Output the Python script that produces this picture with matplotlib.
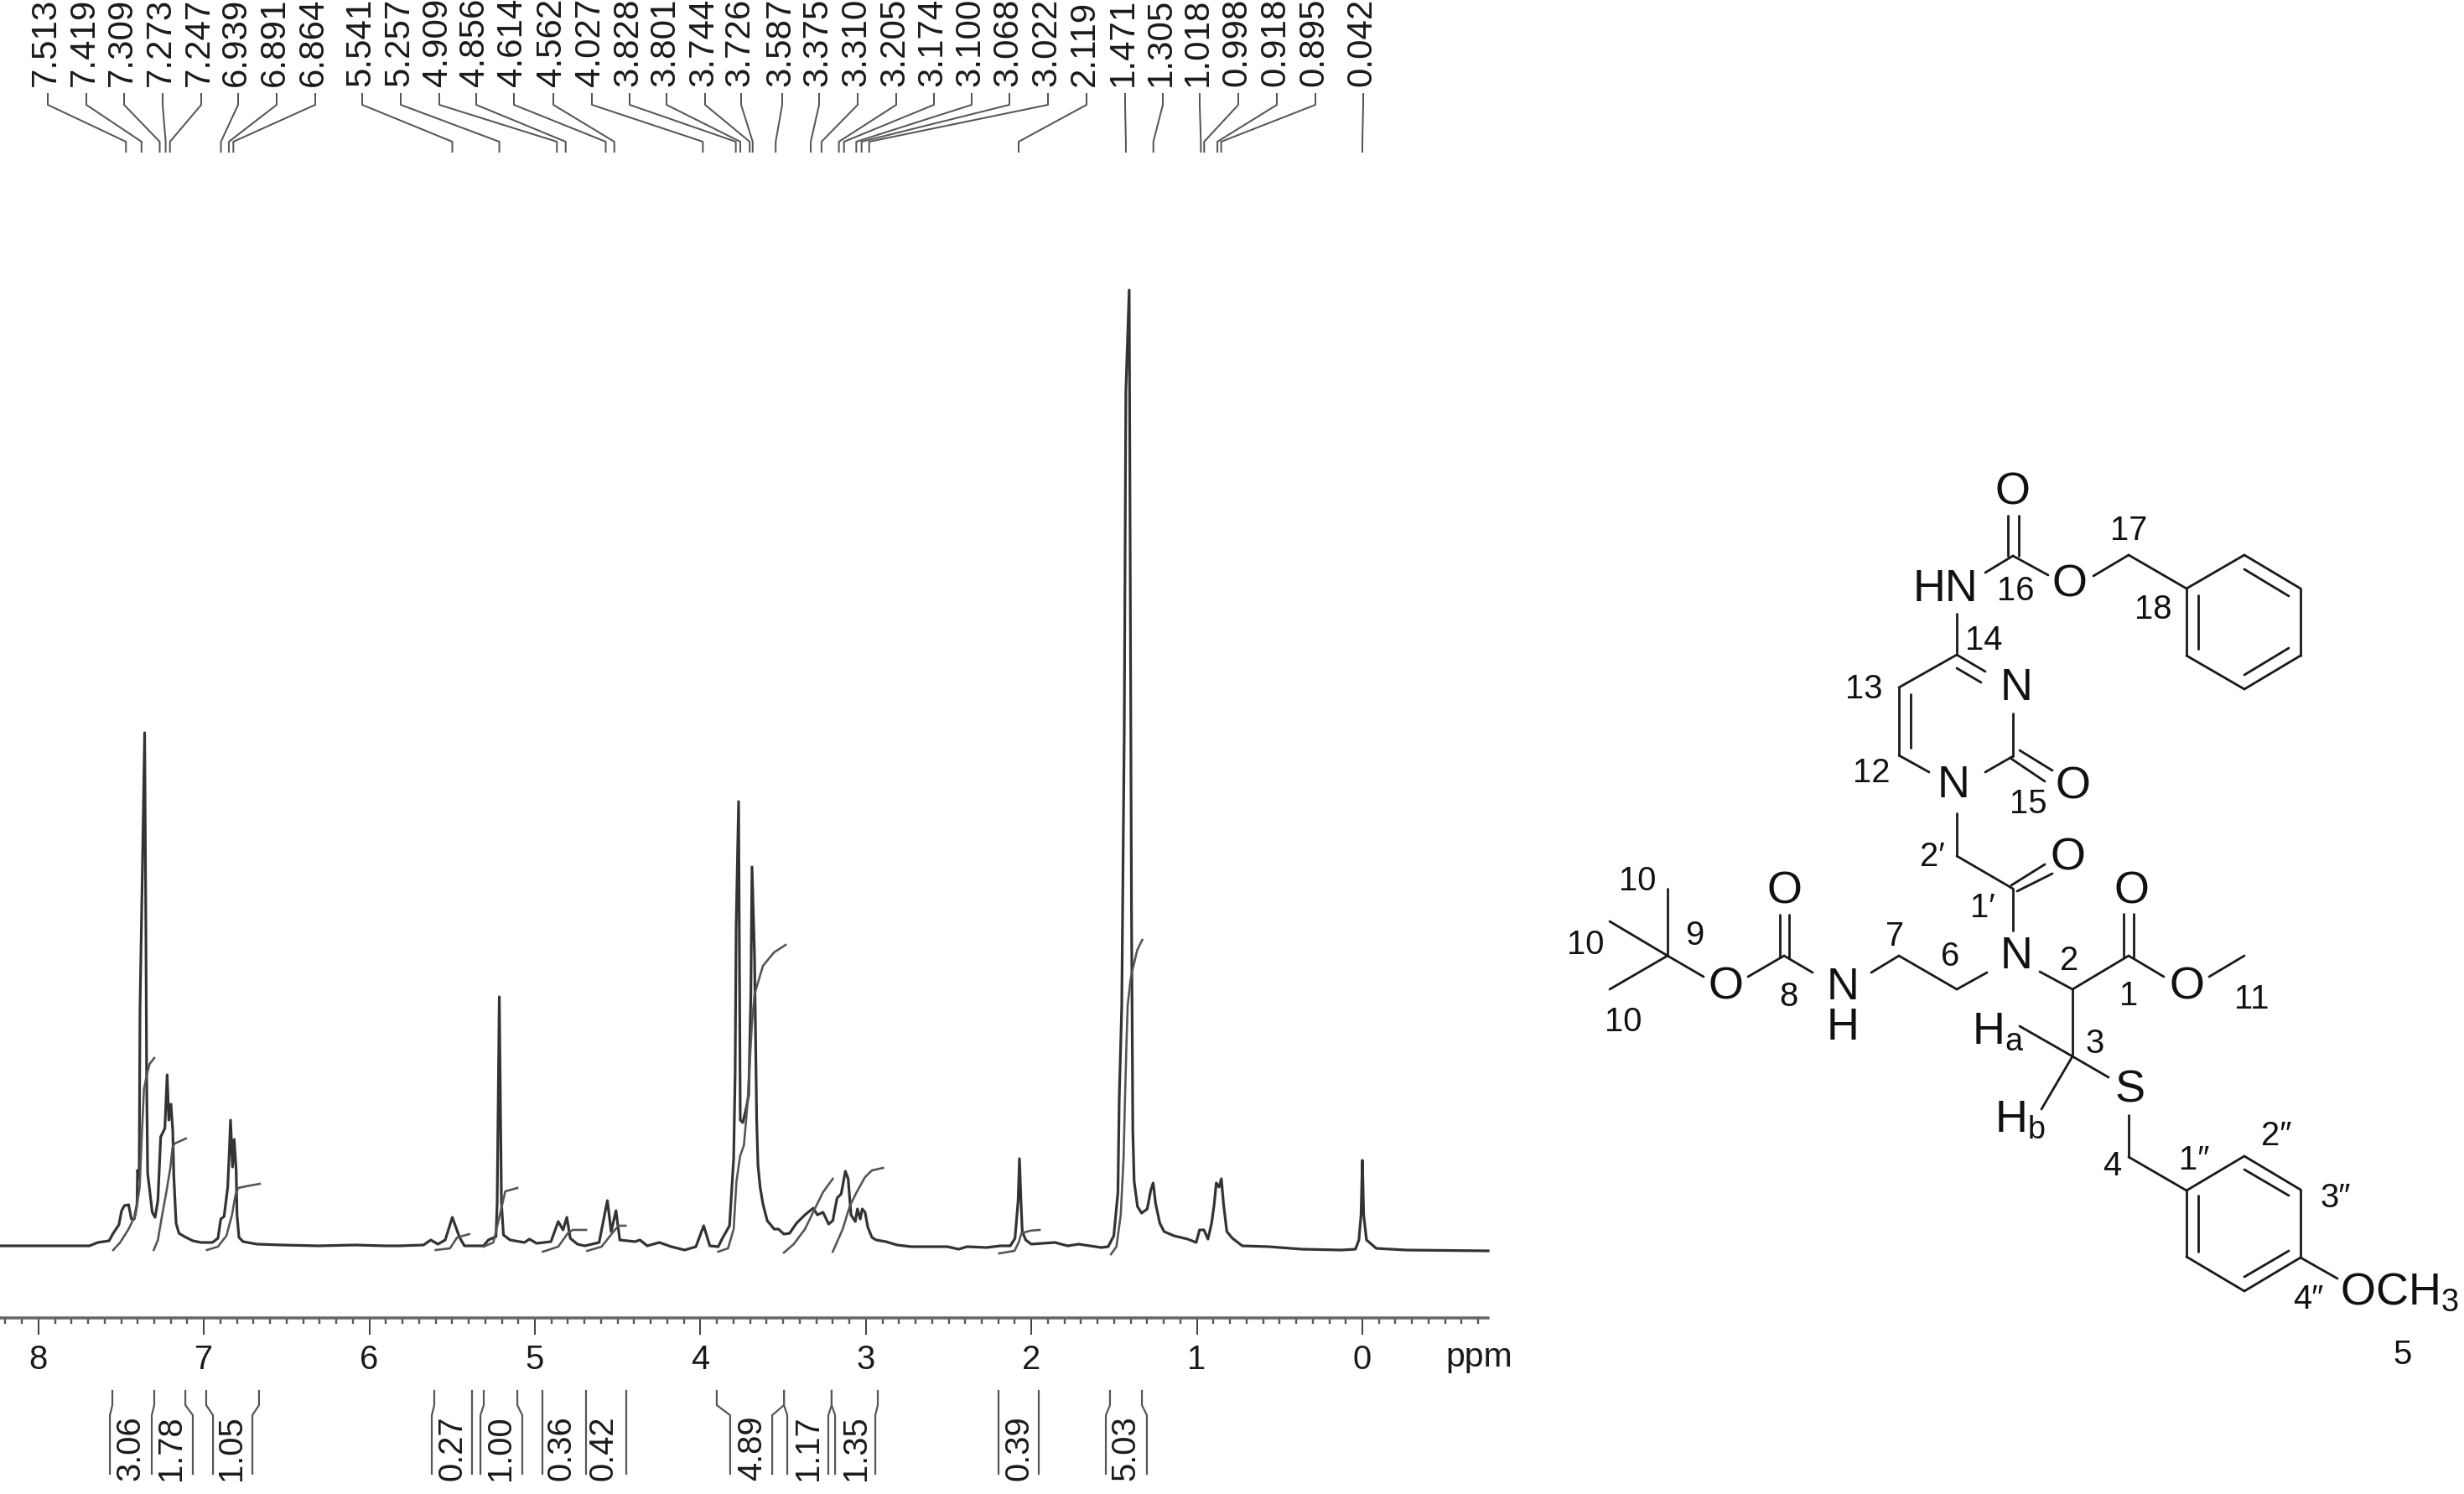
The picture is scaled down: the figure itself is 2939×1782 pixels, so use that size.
import numpy as np
import matplotlib
matplotlib.use("Agg")
import matplotlib.pyplot as plt

plt.rcParams['font.family'] = ['Liberation Sans', 'DejaVu Sans']
plt.rcParams['mathtext.default'] = 'regular'

W, H = 2939, 1783
PX = 0.72  # one pixel in points at dpi=100
PPM0_X = 1625.0  # pixel of 0 ppm
PPM_SCALE = 197.4  # pixels per ppm
BASE_Y = 1486.0  # pixel of the baseline, intensity is counted in pixels above it

# spectrum trace, ppm / intensity
spec_ppm = [8.232, 7.928, 7.692, 7.641, 7.573, 7.548, 7.514, 7.497, 7.480, 7.455, 7.438, 7.421, 7.404, 7.401, 7.391,
            7.386, 7.372, 7.358, 7.350, 7.346, 7.340, 7.312, 7.295, 7.278, 7.261, 7.236, 7.222, 7.212,
            7.199, 7.188, 7.182, 7.168, 7.151, 7.117, 7.067, 7.016, 6.949, 6.915, 6.898, 6.878, 6.856, 6.847, 6.839,
            6.827, 6.817, 6.805, 6.800, 6.788, 6.763, 6.678, 6.526, 6.307, 6.087, 5.902, 5.818, 5.673, 5.629, 5.586,
            5.542, 5.499, 5.455, 5.426, 5.310, 5.281, 5.235, 5.228, 5.215, 5.202, 5.190, 5.150, 5.063, 5.033, 4.990,
            4.903, 4.859, 4.830, 4.807, 4.786, 4.743, 4.699, 4.612, 4.562, 4.539, 4.510, 4.487, 4.394, 4.365, 4.321,
            4.248, 4.176, 4.095, 4.027, 3.980, 3.943, 3.892, 3.867, 3.824, 3.799, 3.790, 3.784, 3.769, 3.759, 3.744,
            3.723, 3.708, 3.695, 3.688, 3.673, 3.660, 3.652, 3.639, 3.622, 3.596, 3.554, 3.529, 3.495,
            3.461, 3.419, 3.368, 3.318, 3.293, 3.259, 3.225, 3.200, 3.174, 3.149, 3.124, 3.107, 3.090, 3.064, 3.051,
            3.034, 3.022, 3.005, 2.988, 2.963, 2.938, 2.879, 2.811, 2.727, 2.507, 2.440, 2.389, 2.271, 2.186, 2.127,
            2.099, 2.080, 2.072, 2.063, 2.055, 2.034, 2.001, 1.933, 1.857, 1.781, 1.714, 1.646, 1.578, 1.536, 1.502,
            1.477, 1.469, 1.454, 1.439, 1.429, 1.409, 1.401, 1.395, 1.387, 1.379, 1.359, 1.334, 1.300, 1.278, 1.264,
            1.249, 1.224, 1.198, 1.139, 1.055, 1.004, 0.984, 0.957, 0.933, 0.911, 0.895, 0.883, 0.866, 0.852, 0.839,
            0.819, 0.785, 0.726, 0.565, 0.363, 0.126, 0.042, 0.021, 0.008, 0.000, -0.008, -0.025, -0.084, -0.262,
            -0.760]
spec_int = [-1, -1, -1, 3, 5, 14, 24, 41, 47, 48, 31, 31, 49, 89, 79,
            283, 443, 611, 360, 200, 86, 39, 33, 53, 129, 139, 203, 149,
            168, 136, 83, 26, 14, 10, 5, 3, 3, 8, 31, 34, 69, 109, 149,
            93, 126, 89, 36, 9, 4, 1, 0, -1, 0, -1, -1, 0, 6, 1,
            6, 33, 9, -1, -1, 6, 10, 50, 296, 50, 12, 6, 3, 7, 2,
            4, 28, 18, 33, 8, 1, -1, 3, 53, 16, 41, 6, 4, 6, -1,
            3, -2, -6, -2, 23, -1, -2, 8, 23, 103, 203, 379, 529, 149, 146,
            163, 179, 300, 451, 346, 150, 95, 69, 49, 29, 19, 19, 13,
            14, 26, 36, 44, 36, 39, 25, 29, 56, 61, 88, 79, 36, 28, 43,
            31, 43, 39, 21, 9, 6, 4, 0, -2, -2, -5, -2, -3, -1, -1,
            8, 53, 103, 53, 16, 6, 1, 2, 3, -1, 1, -1, -3, -2, 11,
            63, 176, 284, 608, 1019, 1139, 700, 400, 136, 76, 46, 38, 43, 66, 74,
            49, 26, 16, 11, 7, 3, 18, 18, 7, 26, 49, 74, 69, 79, 49,
            16, 8, -1, -2, -5, -6, -5, 6, 36, 101, 36, 6, -4, -6,
            -7]

# integral curves drawn over the trace
integral_ppm = [
    [7.548, 7.506, 7.455, 7.413, 7.388, 7.374, 7.362, 7.345, 7.328, 7.300],
    [7.303, 7.278, 7.252, 7.227, 7.202, 7.190, 7.177, 7.143, 7.109],
    [6.982, 6.915, 6.864, 6.830, 6.810, 6.793, 6.746, 6.662],
    [5.600, 5.513, 5.470, 5.397],
    [5.310, 5.251, 5.208, 5.179, 5.106],
    [4.952, 4.859, 4.801, 4.772, 4.690],
    [4.684, 4.597, 4.525, 4.495, 4.452],
    [3.892, 3.833, 3.799, 3.782, 3.760, 3.737, 3.715, 3.689, 3.673, 3.622, 3.555, 3.485],
    [3.495, 3.436, 3.368, 3.309, 3.259, 3.200],
    [3.200, 3.140, 3.098, 3.056, 3.005, 2.963, 2.896],
    [2.195, 2.102, 2.077, 2.060, 2.009, 1.950],
    [1.519, 1.486, 1.460, 1.443, 1.435, 1.426, 1.418, 1.401, 1.393, 1.360, 1.330],
]
integral_int = [
    [-6, 3, 19, 36, 69, 136, 186, 203, 216, 223],
    [-6, 6, 36, 63, 93, 116, 121, 124, 127],
    [-6, -2, 11, 36, 59, 68, 70, 73],
    [-6, -4, 9, 13],
    [-2, 3, 39, 64, 68],
    [-8, -2, 14, 18, 18],
    [-7, -2, 16, 23, 23],
    [-8, -4, 19, 76, 106, 119, 169, 263, 299, 333, 349, 358],
    [-9, 1, 19, 43, 63, 79],
    [-8, 19, 46, 63, 81, 89, 92],
    [-10, -7, 3, 14, 17, 18],
    [-11, -2, 36, 103, 169, 236, 286, 316, 325, 352, 364],
]

# peak picking list
peak_labels = ["7.513", "7.419", "7.309", "7.273", "7.247", "6.939", "6.891", "6.864",
               "5.541", "5.257", "4.909", "4.856", "4.614", "4.562", "4.027", "3.828",
               "3.801", "3.744", "3.726", "3.587", "3.375", "3.310", "3.205", "3.174",
               "3.100", "3.068", "3.022", "2.119", "1.471", "1.305", "1.018", "0.998",
               "0.918", "0.895", "0.042"]
peak_slot_x = [57, 103, 148, 194, 240, 284, 330, 376, 432, 478, 524, 568, 613, 660, 706, 751,
               795, 841, 884, 933, 977, 1023, 1069, 1114, 1159, 1204, 1250, 1296, 1342, 1387,
               1431, 1477, 1523, 1569, 1626]
REF_SHIFT = 0.042  # the TMS line was picked at 0.042

# integral values and the ppm of the bracket sides (top end, bottom end)
integral_labels = ["3.06", "1.78", "1.05", "0.27", "1.00", "0.36", "0.42", "4.89", "1.17", "1.35", "0.39", "5.03"]
integral_label_x = [155, 204, 276, 540, 597, 670, 720, 897, 964, 1021, 1215, 1342]
bracket_top = [7.553, 7.300, 7.112, 6.986, 6.667, 5.608, 5.380, 5.309, 5.106, 4.954, 4.691, 4.448,
               3.901, 3.495, 3.495, 3.207, 3.207, 2.928, 2.199, 1.955, 1.525, 1.332]
bracket_bot = [7.568, 7.315, 7.067, 6.945, 6.707, 5.623, 5.380, 5.329, 5.076, 4.954, 4.691, 4.448,
               3.820, 3.566, 3.475, 3.227, 3.186, 2.943, 2.199, 1.955, 1.550, 1.302]

# molecule, figure pixels
bonds = [
    (2401, 664, 2368, 684), (2401, 664, 2443, 687), (2395, 664, 2395, 616), (2408, 664, 2408, 616),
    (2497, 688, 2539, 663), (2539, 663, 2608, 703),
    (2608, 703, 2677, 663), (2677, 663, 2744, 703), (2744, 703, 2744, 783), (2744, 783, 2677, 823),
    (2677, 823, 2608, 783), (2608, 783, 2608, 703),
    (2622, 711, 2622, 775), (2677, 680, 2730, 712), (2677, 806, 2730, 774),
    (2334, 733, 2334, 782), (2334, 782, 2265, 821), (2334, 782, 2368, 802), (2334, 798, 2363, 815),
    (2401, 852, 2401, 903), (2265, 821, 2265, 902), (2279, 829, 2279, 893), (2265, 902, 2301, 922),
    (2401, 903, 2368, 922), (2409, 896, 2448, 920), (2399, 906, 2439, 933),
    (2334, 971, 2334, 1022), (2334, 1022, 2401, 1061), (2399, 1057, 2439, 1032), (2406, 1064, 2448, 1043),
    (2401, 1061, 2401, 1111),
    (1989, 1141, 1989, 1061), (1989, 1141, 1920, 1100), (1989, 1141, 1920, 1181), (1989, 1141, 2032, 1166),
    (2085, 1166, 2128, 1141), (2123, 1143, 2123, 1092), (2134, 1143, 2134, 1092), (2128, 1141, 2162, 1161),
    (2232, 1161, 2265, 1141), (2265, 1141, 2334, 1181), (2334, 1181, 2370, 1161),
    (2433, 1160, 2472, 1181), (2472, 1181, 2539, 1141), (2533, 1143, 2533, 1091), (2545, 1143, 2545, 1091),
    (2539, 1141, 2581, 1166), (2635, 1166, 2677, 1141),
    (2472, 1181, 2472, 1261), (2472, 1261, 2409, 1225), (2472, 1261, 2515, 1286), (2472, 1261, 2435, 1324),
    (2539, 1331, 2539, 1381), (2539, 1381, 2608, 1421),
    (2608, 1421, 2677, 1380), (2677, 1380, 2744, 1420), (2744, 1420, 2744, 1501), (2744, 1501, 2677, 1541),
    (2677, 1541, 2608, 1500), (2608, 1500, 2608, 1421),
    (2622, 1427, 2622, 1494), (2677, 1396, 2730, 1427), (2677, 1524, 2730, 1493),
    (2744, 1501, 2788, 1526),
]
atom_text = ["O", "HN", "O", "N", "N", "O", "O", "N", "O", "O", "N", "H", "O", "O", "S"]
atom_x = [2401, 2321, 2468, 2405, 2330, 2472, 2467, 2405, 2058, 2128, 2198, 2198, 2542, 2608, 2541]
atom_y = [588, 703, 698, 821, 937, 939, 1023, 1141, 1178, 1064, 1178, 1226, 1064, 1178, 1301]
num_text = ["17", "16", "18", "14", "13", "12", "15", "2\u2032", "1\u2032", "10", "10", "9", "10", "8", "7", "6",
            "2", "1", "11", "3", "4", "1\u2033", "2\u2033", "3\u2033", "4\u2033", "5"]
num_x = [2539, 2404, 2568, 2366, 2223, 2232, 2419, 2305, 2365, 1953, 1891, 2021, 1936, 2133, 2260, 2326,
         2468, 2539, 2686, 2499, 2519, 2617, 2715, 2786, 2753, 2865]
num_y = [633, 705, 727, 764, 822, 922, 959, 1022, 1083, 1051, 1127, 1116, 1219, 1189, 1117, 1141,
         1146, 1188, 1192, 1245, 1391, 1384, 1355, 1429, 1550, 1616]

fig = plt.figure(figsize=(W / 100, H / 100), dpi=100, facecolor='white')

# whole figure axes so ppm and pixels stay locked together
ax = fig.add_axes([0, 0, 1, 1])
ax.set_xlim(PPM0_X / PPM_SCALE, (PPM0_X - W) / PPM_SCALE)
ax.set_ylim(BASE_Y - H, BASE_Y)
ax.patch.set_visible(False)


def slot_ppm(x):
    return (PPM0_X - x) / PPM_SCALE


def h_of(y):
    return BASE_Y - y


ax.plot(spec_ppm, spec_int, color='#333333', lw=3.2 * PX, solid_joinstyle='round')
for xs, ys in zip(integral_ppm, integral_int):
    ax.plot(xs, ys, color='#555555', lw=2.6 * PX)

# axis
for side in ['top', 'left', 'right']:
    ax.spines[side].set_visible(False)
ax.spines['bottom'].set_position(('data', h_of(1573)))
ax.spines['bottom'].set_bounds(PPM0_X / PPM_SCALE, -0.76)
ax.spines['bottom'].set_color('#666666')
ax.spines['bottom'].set_linewidth(3.5 * PX)
ax.yaxis.set_visible(False)
ax.set_xticks(range(9))
ax.set_xticklabels([str(i) for i in range(9)])
ax.set_xticks([i / 10 for i in range(-7, 83) if i % 10 != 0], minor=True)
ax.tick_params(axis='x', which='major', length=20 * PX, width=2 * PX, color='#444444', pad=10 * PX,
               labelsize=40 * PX, labelcolor='#1a1a1a')
ax.tick_params(axis='x', which='minor', length=7 * PX, width=2.4 * PX, color='#555555')
ax.text(slot_ppm(1764), h_of(1619), "ppm", fontsize=41 * PX, ha='center', va='center', color='#1a1a1a')

# peak list with its connector lines
for lab, sx in zip(peak_labels, peak_slot_x):
    p = float(lab) - REF_SHIFT
    ax.plot([slot_ppm(sx), slot_ppm(sx), p, p],
            [h_of(113), h_of(126), h_of(170), h_of(182)], color='#555555', lw=2 * PX)
    ax.text(slot_ppm(sx - 2), h_of(103), lab, rotation=90, ha='center', va='bottom',
            fontsize=42 * PX, color='#1a1a1a')

# integral brackets under the axis
for t, b in zip(bracket_top, bracket_bot):
    ax.plot([t, t, b, b], [h_of(1660), h_of(1677), h_of(1689), h_of(1759)], color='#555555', lw=2.2 * PX)
for lab, lx in zip(integral_labels, integral_label_x):
    ax.text(slot_ppm(lx), h_of(1727), lab, rotation=90, ha='center', va='center',
            fontsize=40 * PX, color='#1a1a1a')

# molecule on its own pixel axes
mol = fig.add_axes([0, 0, 1, 1])
mol.set_xlim(0, W)
mol.set_ylim(H, 0)
mol.axis('off')
for x0, y0, x1, y1 in bonds:
    mol.plot([x0, x1], [y0, y1], color='#1a1a1a', lw=2.8 * PX, solid_capstyle='round')
for t, x, y in zip(atom_text, atom_x, atom_y):
    mol.text(x, y, t, fontsize=54 * PX, ha='center', va='center', color='#111111')
for t, x, y in zip(num_text, num_x, num_y):
    mol.text(x, y, t, fontsize=40 * PX, ha='center', va='center', color='#111111')
mol.text(2352, 1245, "H$_a$", fontsize=54 * PX, ha='left', va='baseline', color='#111111')
mol.text(2379, 1350, "H$_b$", fontsize=54 * PX, ha='left', va='baseline', color='#111111')
mol.text(2791, 1556, "OCH$_3$", fontsize=54 * PX, ha='left', va='baseline', color='#111111')

fig.savefig("out.png", dpi=100)
